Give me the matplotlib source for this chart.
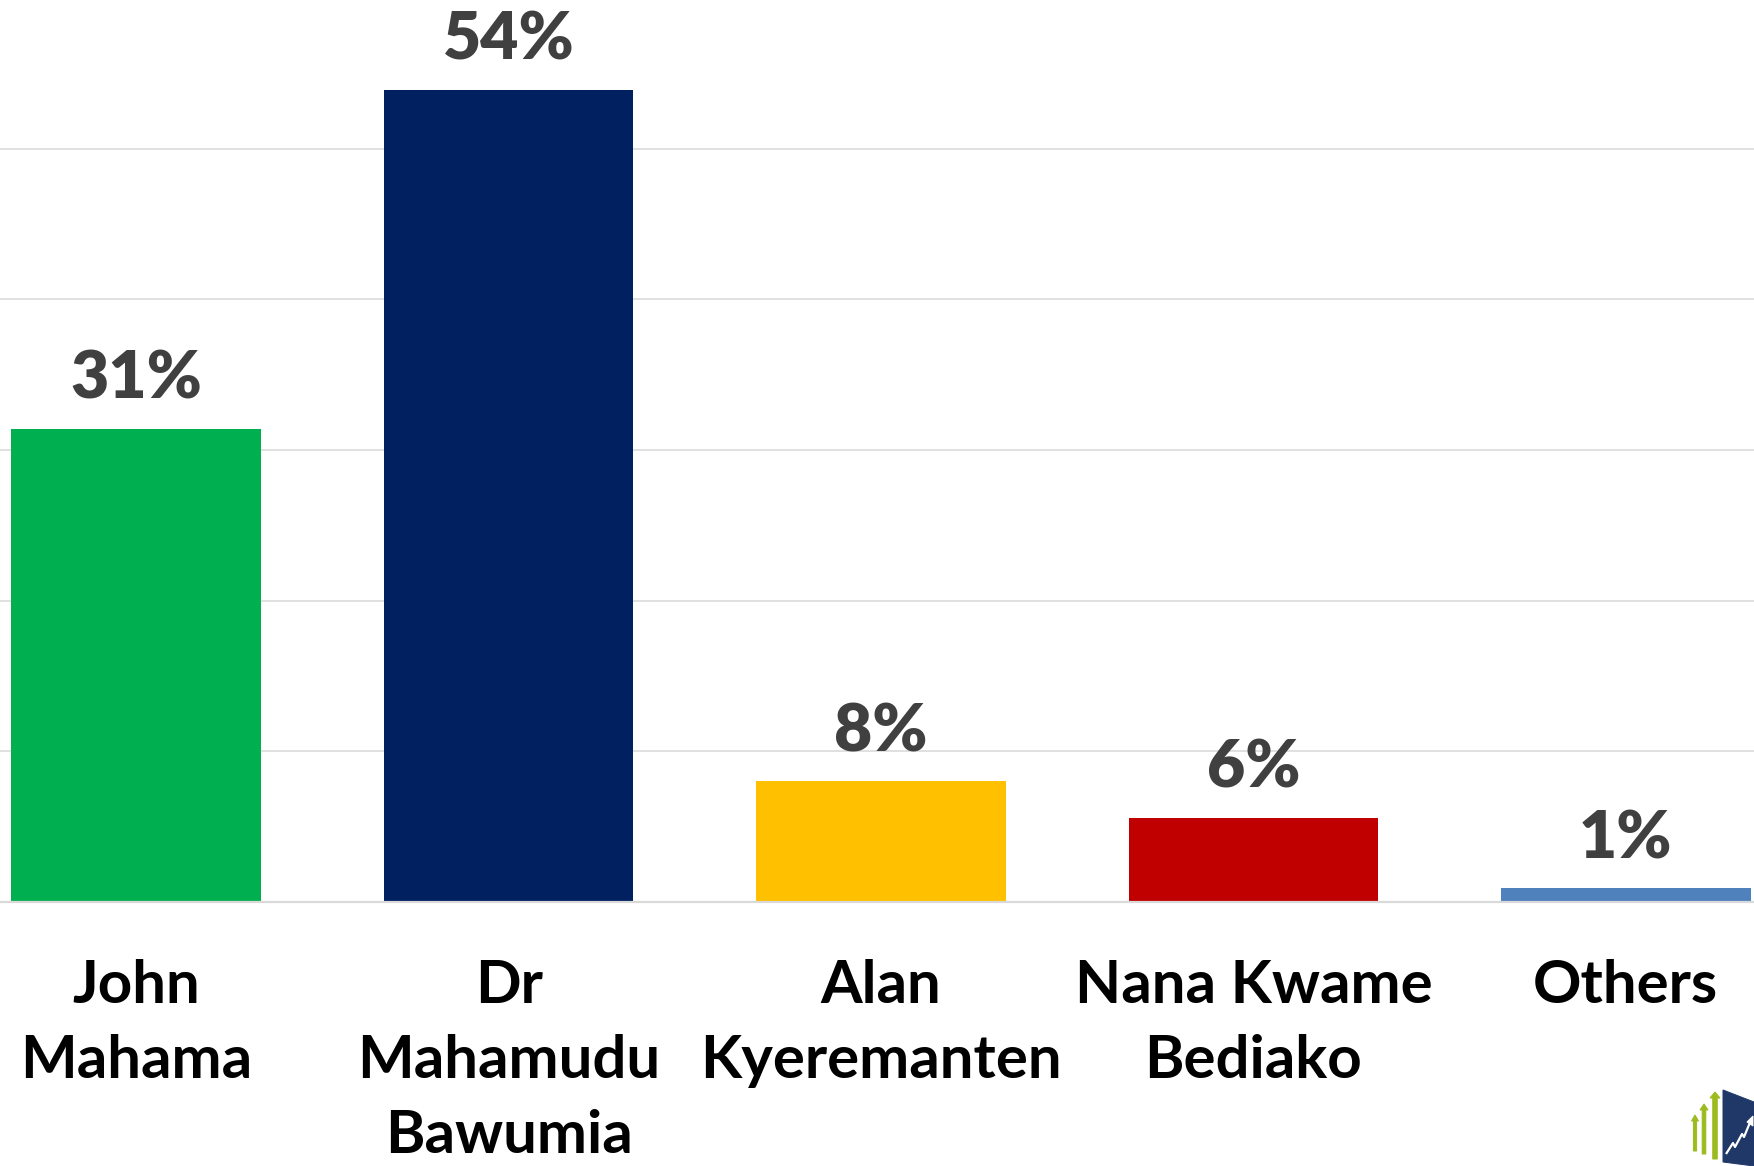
import numpy as np
import matplotlib
matplotlib.use("Agg")
import matplotlib.pyplot as plt
from matplotlib.patches import Polygon

# data
candidates = ["John\nMahama", "Dr\nMahamudu\nBawumia", "Alan\nKyeremanten",
              "Nana Kwame\nBediako", "Others"]
shares = [31.4, 53.9, 8.0, 5.6, 0.9]
bar_colors = ["#00B050", "#002060", "#FFC000", "#C00000", "#4F81BD"]
y_ticks = [0, 10, 20, 30, 40, 50, 60]

DPI = 72
W, H = 1754, 1166
FONT = "Lato"

fig = plt.figure(figsize=(W / DPI, H / DPI), dpi=DPI)
fig.patch.set_facecolor("white")

# axes slightly wider than the canvas (the source chart is cropped at the sides)
ax_left, ax_right = -50, 1812
ax_bottom, ax_top = 902, -2
ax = fig.add_axes([ax_left / W, (H - ax_bottom) / H,
                   (ax_right - ax_left) / W, (ax_bottom - ax_top) / H])

x = np.arange(len(candidates))
ax.bar(x, shares, width=0.67, color=bar_colors, zorder=3)

ax.set_xlim(-0.5, len(candidates) - 0.5)
ax.set_ylim(0, 60)
ax.set_yticks(y_ticks)
ax.yaxis.grid(True, color="#D9D9D9", linewidth=1.6, zorder=0)
ax.tick_params(axis="y", left=False, labelleft=False)

for side in ["left", "right", "top"]:
    ax.spines[side].set_visible(False)
ax.spines["bottom"].set_color("#D9D9D9")
ax.spines["bottom"].set_linewidth(2.2)
ax.spines["bottom"].set_zorder(4)

ax.set_xticks(x)
ax.set_xticklabels(candidates, fontsize=60, fontweight="bold", family=FONT,
                   color="black", linespacing=1.48)
ax.tick_params(axis="x", length=0, pad=57)

for xi, v in zip(x, shares):
    ax.annotate(f"{v:.0f}%", (xi, v), xytext=(0, 30), textcoords="offset points",
                ha="center", va="baseline", fontsize=66, fontweight="heavy",
                family=FONT, color="#404040", zorder=5)

# small logo in the bottom right corner
lg = fig.add_axes([1690 / W, 0, 64 / W, 96 / H])
lg.set_xlim(1690, 1754)
lg.set_ylim(1166, 1070)
lg.axis("off")
green = "#9BBB1F"
for sx, top, bot, hw in [(1695, 1115, 1151, 3.5), (1704, 1104, 1154, 4), (1715, 1092, 1159, 5)]:
    lg.add_patch(Polygon([(sx - hw * 0.45, bot), (sx - hw * 0.45, top + 6), (sx - hw, top + 6),
                          (sx, top), (sx + hw, top + 6), (sx + hw * 0.45, top + 6),
                          (sx + hw * 0.45, bot)], closed=True, color=green))
lg.add_patch(Polygon([(1723, 1090), (1754, 1102), (1754, 1166), (1723, 1162)],
                     closed=True, color="#1F3868"))
lg.plot([1726, 1733, 1735, 1742, 1744, 1751], [1154, 1143, 1147, 1134, 1137, 1120],
        color="white", linewidth=2.2, solid_capstyle="butt")
lg.add_patch(Polygon([(1747, 1122), (1753, 1116), (1753, 1126)], closed=True, color="white"))

fig.savefig("out.png", dpi=DPI, facecolor="white")
